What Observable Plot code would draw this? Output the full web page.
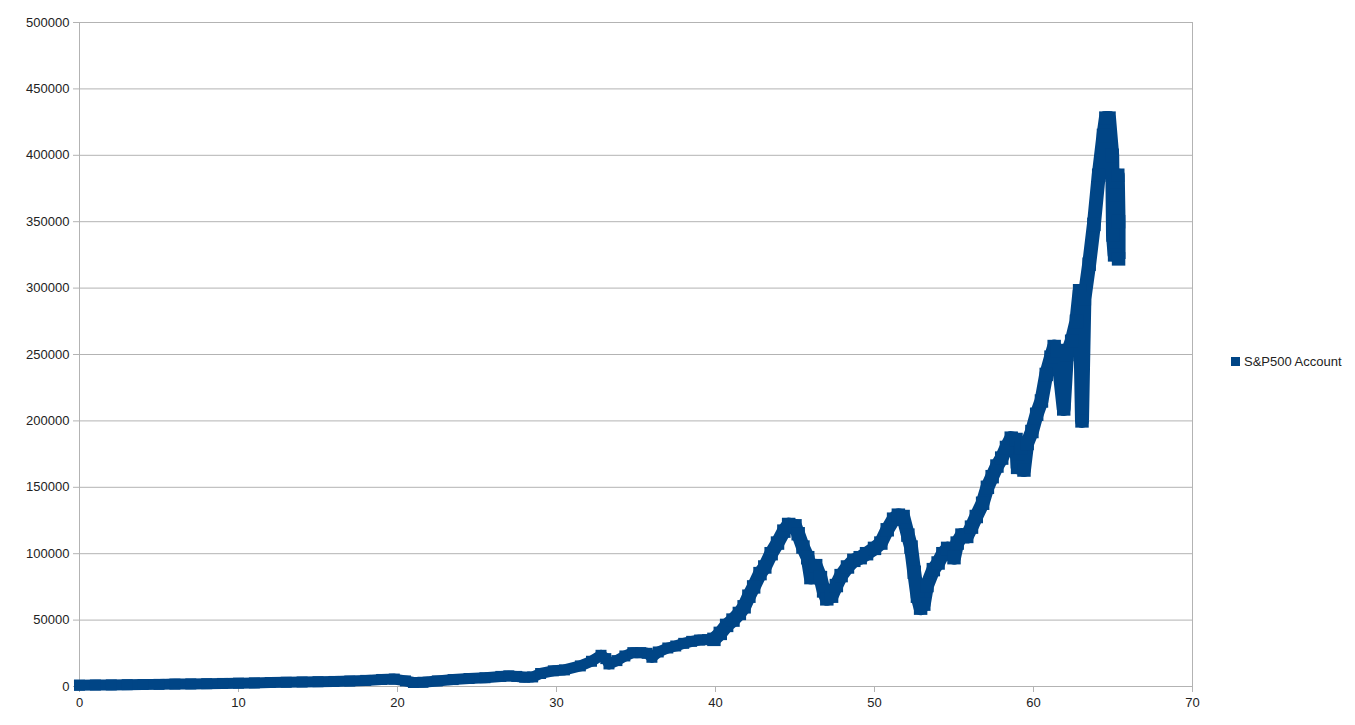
<!DOCTYPE html>
<html>
<head>
<meta charset="utf-8">
<script src="https://cdn.jsdelivr.net/npm/d3@7"></script>
<script src="https://cdn.jsdelivr.net/npm/@observablehq/plot@0.6"></script>
<style>
  html, body { margin: 0; padding: 0; background: #fff; }
  #wrap { position: relative; width: 1355px; height: 725px; font-family: "Liberation Sans", Arial, sans-serif; }
  #legend { position: absolute; left: 1231px; top: 354px; font-size: 13px; color: #222; display: flex; align-items: center; white-space: nowrap; }
  #legend .sw { width: 9px; height: 9px; background: #004586; margin-right: 4px; }
</style>
</head>
<body>
<div id="wrap"><div id="legend"><div class="sw"></div><span>S&amp;P500 Account</span></div></div>
<script>
const seriesName = "S&P500 Account";
const years = [0,1,2,3,4,5,6,7,8,9,10,11,12,13,14,15,16,17,18,19,19.8,20.5,21,21.6,22.5,23.5,24.5,25.5,26.5,27,27.5,28,28.5,29,29.8,30.5,31.5,32.2,32.8,33.1,33.3,33.8,34.3,34.8,35.3,35.7,36,36.4,37,37.5,38,38.5,39,39.5,39.9,40.3,40.7,41.1,41.5,41.8,42.1,42.4,42.8,43.1,43.5,43.9,44.3,44.6,45,45.2,45.5,45.8,46,46.3,46.6,46.8,47,47.3,47.6,47.9,48.3,48.7,49.1,49.5,50,50.4,50.8,51.2,51.5,51.8,52.1,52.3,52.5,52.7,52.9,53.1,53.3,53.7,54,54.3,54.6,55,55.2,55.5,55.8,56.1,56.4,56.8,57.1,57.4,57.7,58,58.3,58.6,58.9,59,59.2,59.4,59.6,59.9,60.2,60.5,60.8,61.1,61.3,61.5,61.9,62.1,62.4,62.7,62.9,63.05,63.2,63.5,63.8,64.1,64.4,64.55,64.75,64.95,65.0,65.1,65.2,65.3,65.35,65.35];
const values = [1000,1100,1200,1350,1500,1600,1800,1950,2100,2300,2500,2700,3000,3200,3400,3600,3800,4100,4600,5300,5600,4200,3000,3200,4200,5200,6000,6600,7600,8000,7600,7000,7200,9800,11800,12500,15500,19000,23500,21000,17000,19500,23000,25500,25500,25000,22000,26000,29000,30500,32500,34000,35000,35300,35500,40000,46000,50000,55000,60000,68000,75000,85000,90000,100000,108000,117000,122000,121000,115000,105000,97000,82000,91000,82000,72000,66000,68000,76000,83500,90000,95000,97000,100000,104000,108000,118000,126000,129000,128000,114000,105000,86000,68000,59000,62000,76000,88000,93000,100000,104000,97000,108000,114000,113000,120000,128000,138000,150000,158000,166000,172000,180000,187000,186000,165000,180000,163000,183000,192000,205000,215000,235000,248000,256000,253000,209000,250000,260000,275000,298000,200000,292000,318000,348000,385000,415000,428000,428000,400000,340000,325000,370000,385000,350000,322000];
const xTicks = [0,10,20,30,40,50,60,70];
const yTicks = [0,50000,100000,150000,200000,250000,300000,350000,400000,450000,500000];

const data = years.map((x, i) => ({x, y: values[i]}));
const early = data.filter(d => d.x <= 39.9);
const late = data.filter(d => d.x >= 39.9);
const color = "#004586";
const grid = "#b3b3b3";

const chart = Plot.plot({
  width: 1355,
  height: 725,
  marginLeft: 79,
  marginRight: 163,
  marginTop: 22,
  marginBottom: 39,
  style: {fontFamily: "'Liberation Sans', Arial, sans-serif", fontSize: "13px", color: "#222", background: "#fff"},
  x: {domain: [0, 70]},
  y: {domain: [0, 500000]},
  marks: [
    Plot.ruleY(yTicks, {stroke: grid, strokeWidth: 1}),
    Plot.ruleX([0, 70], {stroke: grid, strokeWidth: 1}),
    Plot.axisY({ticks: yTicks, tickFormat: d3.format("d"), tickSize: 6, tickPadding: 4, stroke: grid, label: null, color: "#222"}),
    Plot.axisX({ticks: xTicks, tickFormat: d3.format("d"), tickSize: 6, tickPadding: 5, stroke: grid, label: null, color: "#222"}),
    Plot.line(early, {x: "x", y: "y", stroke: color, strokeWidth: 11, strokeLinejoin: "round", strokeLinecap: "square"}),
    Plot.dot(early, {x: "x", y: "y", symbol: "square", r: 6.2, fill: color, stroke: "none"}),
    Plot.line(late, {x: "x", y: "y", stroke: color, strokeWidth: 14, strokeLinejoin: "round", strokeLinecap: "butt"}),
    Plot.dot(late, {x: "x", y: "y", symbol: "square", r: 7.6, fill: color, stroke: "none"})
  ]
});
document.getElementById("wrap").prepend(chart);
chart.style.position = "absolute";
chart.style.left = "0";
chart.style.top = "0";
</script>
</body>
</html>
